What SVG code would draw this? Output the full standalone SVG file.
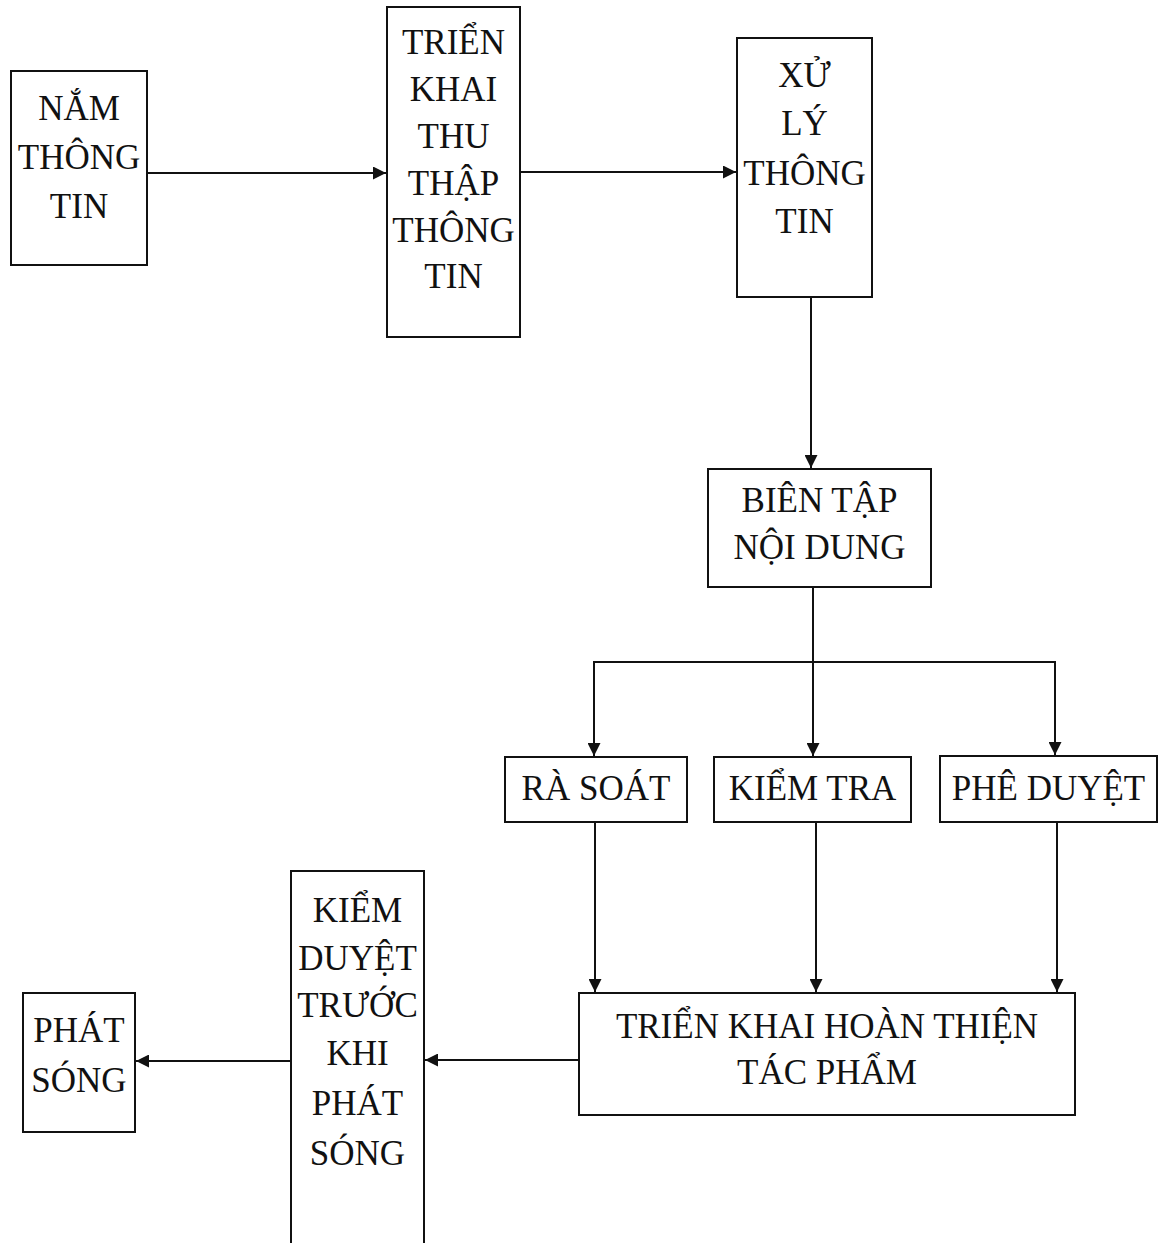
<svg xmlns="http://www.w3.org/2000/svg" width="1165" height="1243" viewBox="0 0 1165 1243">
<style>
.box{fill:#fff;stroke:#111;stroke-width:2}
.t{font-family:"Liberation Serif","Times New Roman",serif;font-size:35px;fill:#111;text-anchor:middle}
.c{fill:none;stroke:#111;stroke-width:2}
</style>
<defs>
<marker id="ah" markerUnits="userSpaceOnUse" markerWidth="13" markerHeight="13" refX="13" refY="6.5" orient="auto">
<path d="M0,0 L13,6.5 L0,13 z" fill="#111"/>
</marker>
</defs>
<rect width="1165" height="1243" fill="#fff"/>
<g id="connectors">
<path class="c" d="M147,173 H386" marker-end="url(#ah)"/>
<path class="c" d="M520,172 H736" marker-end="url(#ah)"/>
<path class="c" d="M811,297 V468" marker-end="url(#ah)"/>
<path class="c" d="M813,587 V756" marker-end="url(#ah)"/>
<path class="c" d="M813,662 H594 V756" marker-end="url(#ah)"/>
<path class="c" d="M813,662 H1055 V755" marker-end="url(#ah)"/>
<path class="c" d="M595,822 V992" marker-end="url(#ah)"/>
<path class="c" d="M816,822 V992" marker-end="url(#ah)"/>
<path class="c" d="M1057,822 V992" marker-end="url(#ah)"/>
<path class="c" d="M579,1060 H425" marker-end="url(#ah)"/>
<path class="c" d="M291,1061 H136" marker-end="url(#ah)"/>
</g>
<g id="nam-thong-tin">
<rect class="box" x="11" y="71" width="136" height="194"/>
<text class="t" x="79" y="120">NẮM</text>
<text class="t" x="79" y="169">THÔNG</text>
<text class="t" x="79" y="218">TIN</text>
</g>
<g id="trien-khai-thu-thap">
<rect class="box" x="387" y="7" width="133" height="330"/>
<text class="t" x="453.5" y="54">TRIỂN</text>
<text class="t" x="453.5" y="101">KHAI</text>
<text class="t" x="453.5" y="148">THU</text>
<text class="t" x="453.5" y="195">THẬP</text>
<text class="t" x="453.5" y="242">THÔNG</text>
<text class="t" x="453.5" y="288">TIN</text>
</g>
<g id="xu-ly-thong-tin">
<rect class="box" x="737" y="38" width="135" height="259"/>
<text class="t" x="804.5" y="87">XỬ</text>
<text class="t" x="804.5" y="135">LÝ</text>
<text class="t" x="804.5" y="185">THÔNG</text>
<text class="t" x="804.5" y="233">TIN</text>
</g>
<g id="bien-tap-noi-dung">
<rect class="box" x="708" y="469" width="223" height="118"/>
<text class="t" x="819.5" y="512">BIÊN TẬP</text>
<text class="t" x="819.5" y="559">NỘI DUNG</text>
</g>
<g id="ra-soat">
<rect class="box" x="505" y="757" width="182" height="65"/>
<text class="t" x="596" y="800">RÀ SOÁT</text>
</g>
<g id="kiem-tra">
<rect class="box" x="714" y="757" width="197" height="65"/>
<text class="t" x="812.5" y="800">KIỂM TRA</text>
</g>
<g id="phe-duyet">
<rect class="box" x="940" y="756" width="217" height="66"/>
<text class="t" x="1048.5" y="800">PHÊ DUYỆT</text>
</g>
<g id="trien-khai-hoan-thien">
<rect class="box" x="579" y="993" width="496" height="122"/>
<text class="t" x="827" y="1038">TRIỂN KHAI HOÀN THIỆN</text>
<text class="t" x="827" y="1084">TÁC PHẨM</text>
</g>
<g id="kiem-duyet">
<rect class="box" x="291" y="871" width="133" height="390"/>
<text class="t" x="357.5" y="922">KIỂM</text>
<text class="t" x="357.5" y="970">DUYỆT</text>
<text class="t" x="357.5" y="1017">TRƯỚC</text>
<text class="t" x="357.5" y="1065">KHI</text>
<text class="t" x="357.5" y="1115">PHÁT</text>
<text class="t" x="357.5" y="1165">SÓNG</text>
</g>
<g id="phat-song">
<rect class="box" x="23" y="993" width="112" height="139"/>
<text class="t" x="79" y="1042">PHÁT</text>
<text class="t" x="79" y="1092">SÓNG</text>
</g>
</svg>
